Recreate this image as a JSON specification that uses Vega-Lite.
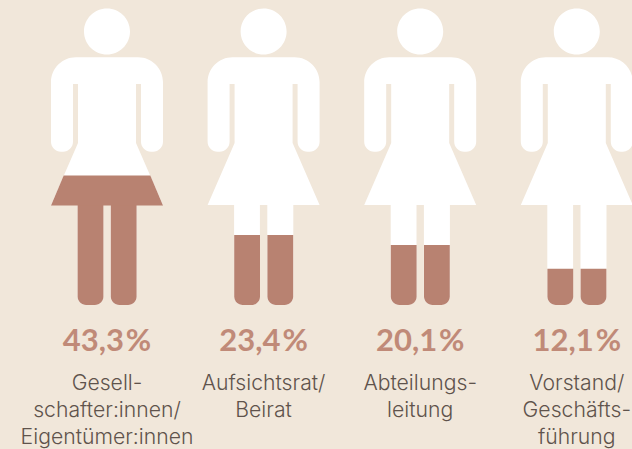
{
  "$schema": "https://vega.github.io/schema/vega-lite/v6.json",
  "width": 632,
  "height": 449,
  "padding": 0,
  "autosize": {"type": "none"},
  "background": "#f1e7da",
  "view": {"stroke": null},
  "data": {"values": [
    {"Gruppe": "Gesellschafter:innen/Eigentümer:innen", "Anteil": 43.3, "Beine": 33.44, "Wert": "43,3\u200a%", "Text": "Gesell-\nschafter:innen/\nEigentümer:innen"},
    {"Gruppe": "Aufsichtsrat/Beirat", "Anteil": 23.4, "Beine": 23.4, "Wert": "23,4\u200a%", "Text": "Aufsichtsrat/\nBeirat"},
    {"Gruppe": "Abteilungsleitung", "Anteil": 20.1, "Beine": 20.1, "Wert": "20,1\u200a%", "Text": "Abteilungs-\nleitung"},
    {"Gruppe": "Vorstand/Geschäftsführung", "Anteil": 12.1, "Beine": 12.1, "Wert": "12,1\u200a%", "Text": "Vorstand/\nGeschäfts-\nführung"}
  ]},
  "encoding": {
    "x": {"field": "Gruppe", "type": "nominal", "sort": null, "axis": null,
      "scale": {"type": "band", "range": [28.7, 655.1], "paddingInner": 0, "paddingOuter": 0}}
  },
  "layer": [
    {
      "mark": {"type": "point", "filled": true, "fill": "#ffffff", "stroke": null, "opacity": 1, "size": 4,
        "shape": "M0,-296.5A23,23 0 1 1 0,-250.5A23,23 0 1 1 0,-296.5ZM-31,-247.7L31,-247.7A25,25 0 0 1 56,-222.7L56,-163.3A10,10 0 0 1 46,-153.3L44,-153.3A10,10 0 0 1 34,-163.3L34,-221L29,-221L29,-162L56,-100L29.7,-100L29.7,-8.5A8.5,8.5 0 0 1 21.2,0L12.2,0A8.5,8.5 0 0 1 3.7,-8.5L3.7,-100L-3.7,-100L-3.7,-8.5A8.5,8.5 0 0 1 -12.2,0L-21,0A8.5,8.5 0 0 1 -29.5,-8.5L-29.5,-100L-56,-100L-29,-162L-29,-221L-34,-221L-34,-163.3A10,10 0 0 1 -44,-153.3L-46,-153.3A10,10 0 0 1 -56,-163.3L-56,-222.7A25,25 0 0 1 -31,-247.7Z"},
      "encoding": {"y": {"datum": 0, "type": "quantitative", "axis": null, "scale": {"domain": [-48.16, 102.0], "range": [449, 0]}}}
    },
    {
      "mark": {"type": "bar", "fill": "#b88271", "width": 25.8, "xOffset": -16.5, "cornerRadiusBottomLeft": 8.5, "cornerRadiusBottomRight": 8.5},
      "encoding": {"y": {"field": "Beine", "type": "quantitative", "axis": null, "scale": {"domain": [-48.16, 102.0], "range": [449, 0]}}, "y2": {"datum": 0}}
    },
    {
      "mark": {"type": "bar", "fill": "#b88271", "width": 25.8, "xOffset": 16.7, "cornerRadiusBottomLeft": 8.5, "cornerRadiusBottomRight": 8.5},
      "encoding": {"y": {"field": "Beine", "type": "quantitative", "axis": null, "scale": {"domain": [-48.16, 102.0], "range": [449, 0]}}, "y2": {"datum": 0}}
    },
    {
      "transform": [{"filter": "datum.Anteil > datum.Beine"}],
      "mark": {"type": "point", "filled": true, "fill": "#b88271", "stroke": null, "opacity": 1, "size": 4, "shape": "M-43.3,0L43.3,0L56,30L-56,30Z"},
      "encoding": {"y": {"field": "Anteil", "type": "quantitative", "axis": null, "scale": {"domain": [-48.16, 102.0], "range": [449, 0]}}}
    },
    {
      "mark": {"type": "text", "font": "Lato", "fontWeight": 700, "fontSize": 31, "fill": "#c08a78", "align": "center", "baseline": "alphabetic", "dy": 46},
      "encoding": {"y": {"datum": 0, "type": "quantitative", "axis": null, "scale": {"domain": [-48.16, 102.0], "range": [449, 0]}}, "text": {"field": "Wert"}}
    },
    {
      "mark": {"type": "text", "font": "Inter", "fontWeight": 300, "fontSize": 21.2, "fill": "#5f534c", "align": "center", "baseline": "alphabetic", "dy": 85, "lineBreak": "\n", "lineHeight": 27},
      "encoding": {"y": {"datum": 0, "type": "quantitative", "axis": null, "scale": {"domain": [-48.16, 102.0], "range": [449, 0]}}, "text": {"field": "Text"}}
    }
  ]
}
